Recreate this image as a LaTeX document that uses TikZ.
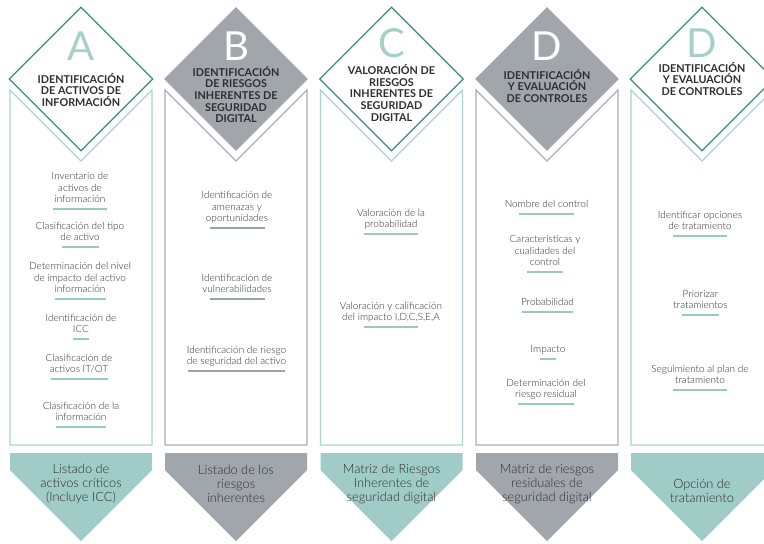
\documentclass[tikz,border=0pt]{standalone}
\usepackage{fontspec}
\setmainfont{Lato}
\newfontfamily\latolight{Lato Light}
\usepackage{tikz}
\usetikzlibrary{shapes.geometric, positioning}
\definecolor{tealline}{HTML}{A9D4CF}
\definecolor{tealfill}{HTML}{9FCCC7}
\definecolor{tealdark}{HTML}{3D8C82}
\definecolor{tealletter}{HTML}{A7CFCA}
\definecolor{tealrulec}{HTML}{98C9C3}
\definecolor{grayfill}{HTML}{A1A6AD}
\definecolor{grayline}{HTML}{ABAEB2}
\definecolor{grayrulec}{HTML}{9EA3AA}
\definecolor{textdark}{HTML}{2E2E2E}
\tikzset{
  tealframe/.style={draw=tealline, line width=1.1pt},
  grayframe/.style={draw=grayline, line width=1.1pt},
  tealdiamond/.style={diamond, aspect=1, minimum width=144pt, minimum height=144pt,
                      inner sep=0pt, draw=tealdark, line width=1.2pt, fill=white},
  graydiamond/.style={diamond, aspect=1, minimum width=144pt, minimum height=144pt,
                      inner sep=0pt, fill=grayfill},
  bigletter/.style={font=\fontsize{40}{40}\selectfont, inner sep=0pt},
  headtext/.style={font=\bfseries\fontsize{10.8}{11.6}\selectfont, align=center, text=textdark, inner sep=0pt},
  itemtext/.style={font=\latolight\fontsize{10}{11.8}\selectfont, align=center, text=textdark,
                   inner sep=0pt, text depth=2.5pt, anchor=south},
  tealrule/.style={draw=tealrulec, line width=2.2pt},
  grayrule/.style={draw=grayrulec, line width=2.2pt},
  outtext/.style={font=\latolight\fontsize{12.8}{14}\selectfont, align=center, text=textdark, inner sep=0pt},
}

\begin{document}
\begin{tikzpicture}[x=1pt, y=-1pt]
  \useasboundingbox (0,0) rectangle (764,544);
  \clip (0,0) rectangle (764,544);

  % Column frames
  \draw[tealframe] (10,90) -- (10,445) -- (152,445) -- (152,90) -- (81,161) -- cycle;
  \draw[grayframe] (165,90) -- (165,445) -- (307,445) -- (307,90) -- (236,161) -- cycle;
  \draw[tealframe] (320.5,90) -- (320.5,445) -- (462.5,445) -- (462.5,90) -- (391.5,161) -- cycle;
  \draw[grayframe] (476,90) -- (476,445) -- (618,445) -- (618,90) -- (547,161) -- cycle;
  \draw[tealframe] (631,90) -- (631,445) -- (773,445) -- (773,90) -- (702,161) -- cycle;

  % Diamonds (headers)
  \node[tealdiamond] (dA) at (81,79) {};
  \node[bigletter, text=tealletter] (lA) at (81,46) {A};
  \node[headtext] (hA) at (81,90) {IDENTIFICACIÓN\\DE ACTIVOS DE\\INFORMACIÓN};

  \node[graydiamond] (dB) at (236,79) {};
  \node[bigletter, text=white] (lB) at (236,46) {B};
  \node[headtext] (hB) at (236,94.5) {IDENTIFICACIÓN\\DE RIESGOS\\INHERENTES DE\\SEGURIDAD\\DIGITAL};

  \node[tealdiamond] (dC) at (391.5,79) {};
  \node[bigletter, text=tealletter] (lC) at (391.5,43) {C};
  \node[headtext] (hC) at (391.5,93) {VALORACIÓN DE\\RIESGOS\\INHERENTES DE\\SEGURIDAD\\DIGITAL};

  \node[graydiamond] (dD) at (547,79) {};
  \node[bigletter, text=white] (lD) at (547,46) {D};
  \node[headtext] (hD) at (547,86) {IDENTIFICACIÓN\\Y EVALUACIÓN\\DE CONTROLES};

  \node[tealdiamond] (dE) at (702,79) {};
  \node[bigletter, text=tealletter] (lE) at (702,43) {D};
  \node[headtext] (hE) at (702,79) {IDENTIFICACIÓN\\Y EVALUACIÓN\\DE CONTROLES};

  % Column A items
  \node[itemtext] (a1) at (80,205.5) {Inventario de\\activos de\\información};
  \draw[tealrule] ([xshift=-27pt,yshift=-3.5pt]a1.south) -- ([xshift=27pt,yshift=-3.5pt]a1.south);
  \node[itemtext] (a2) at (80,243.5) {Clasificación del tipo\\de activo};
  \draw[tealrule] ([xshift=-18.5pt,yshift=-3.5pt]a2.south) -- ([xshift=18.5pt,yshift=-3.5pt]a2.south);
  \node[itemtext] (a3) at (80,295.5) {Determinación del nivel\\de impacto del activo\\información};
  \draw[tealrule] ([xshift=-25.5pt,yshift=-3.5pt]a3.south) -- ([xshift=25.5pt,yshift=-3.5pt]a3.south);
  \node[itemtext] (a4) at (81,335.5) {Identificación de\\ICC};
  \draw[tealrule] ([xshift=-8pt,yshift=-3.5pt]a4.south) -- ([xshift=8pt,yshift=-3.5pt]a4.south);
  \node[itemtext] (a5) at (79,375.5) {Clasificación de\\activos IT/OT};
  \draw[tealrule] ([xshift=-28.5pt,yshift=-3.5pt]a5.south) -- ([xshift=28.5pt,yshift=-3.5pt]a5.south);
  \node[itemtext] (a6) at (81,423.5) {Clasificación de la\\información};
  \draw[tealrule] ([xshift=-25pt,yshift=-3.5pt]a6.south) -- ([xshift=25pt,yshift=-3.5pt]a6.south);

  % Column B items
  \node[itemtext] (b1) at (237,224.5) {Identificación de\\amenazas y\\oportunidades};
  \draw[grayrule] ([xshift=-27.5pt,yshift=-3.5pt]b1.south) -- ([xshift=27.5pt,yshift=-3.5pt]b1.south);
  \node[itemtext] (b2) at (237,295.5) {Identificación de\\vulnerabilidades};
  \draw[grayrule] ([xshift=-27.5pt,yshift=-3.5pt]b2.south) -- ([xshift=27.5pt,yshift=-3.5pt]b2.south);
  \node[itemtext] (b3) at (236.5,367.5) {Identificación de riesgo\\de seguridad del activo};
  \draw[grayrule] ([xshift=-48.5pt,yshift=-3.5pt]b3.south) -- ([xshift=48.5pt,yshift=-3.5pt]b3.south);

  % Column C items
  \node[itemtext] (c1) at (391,230.5) {Valoración de la\\probabilidad};
  \draw[tealrule] ([xshift=-27pt,yshift=-3.5pt]c1.south) -- ([xshift=27pt,yshift=-3.5pt]c1.south);
  \node[itemtext] (c2) at (391,323.5) {Valoración y calificación\\del impacto I,D,C,S,E,A};
  \draw[tealrule] ([xshift=-27pt,yshift=-3.5pt]c2.south) -- ([xshift=27pt,yshift=-3.5pt]c2.south);

  % Column D items
  \node[itemtext] (d1) at (546.5,210.5) {Nombre del control};
  \draw[tealrule] ([xshift=-27.5pt,yshift=-3.5pt]d1.south) -- ([xshift=27.5pt,yshift=-3.5pt]d1.south);
  \node[itemtext] (d2) at (545,268.5) {Características y\\cualidades del\\control};
  \draw[tealrule] ([xshift=-18pt,yshift=-3.5pt]d2.south) -- ([xshift=18pt,yshift=-3.5pt]d2.south);
  \node[itemtext] (d3) at (547.5,308.5) {Probabilidad};
  \draw[tealrule] ([xshift=-25.5pt,yshift=-3.5pt]d3.south) -- ([xshift=25.5pt,yshift=-3.5pt]d3.south);
  \node[itemtext] (d4) at (548,355.5) {Impacto};
  \draw[tealrule] ([xshift=-8pt,yshift=-3.5pt]d4.south) -- ([xshift=8pt,yshift=-3.5pt]d4.south);
  \node[itemtext] (d5) at (546,400.5) {Determinación del\\riesgo residual};
  \draw[tealrule] ([xshift=-28pt,yshift=-3.5pt]d5.south) -- ([xshift=28pt,yshift=-3.5pt]d5.south);

  % Column E items
  \node[itemtext] (e1) at (700,232.5) {Identificar opciones\\de tratamiento};
  \draw[tealrule] ([xshift=-27pt,yshift=-3.5pt]e1.south) -- ([xshift=27pt,yshift=-3.5pt]e1.south);
  \node[itemtext] (e2) at (700.5,311.5) {Priorizar\\tratamientos};
  \draw[tealrule] ([xshift=-18.5pt,yshift=-3.5pt]e2.south) -- ([xshift=18.5pt,yshift=-3.5pt]e2.south);
  \node[itemtext] (e3) at (700,386.5) {Seguimiento al plan de\\tratamiento};
  \draw[tealrule] ([xshift=-27pt,yshift=-3.5pt]e3.south) -- ([xshift=27pt,yshift=-3.5pt]e3.south);

  % Output chevrons (bottom)
  \fill[tealfill] (10,453) -- (152,453) -- (152,470) -- (81,541) -- (10,470) -- cycle;
  \node[outtext] (oA) at (81,484) {Listado de\\activos críticos\\(Incluye ICC)};
  \fill[grayfill] (165,453) -- (307,453) -- (307,470) -- (236,541) -- (165,470) -- cycle;
  \node[outtext] (oB) at (236,484) {Listado de los\\riesgos\\inherentes};
  \fill[tealfill] (320.5,453) -- (462.5,453) -- (462.5,470) -- (391.5,541) -- (320.5,470) -- cycle;
  \node[outtext] (oC) at (391.5,484) {Matriz de Riesgos\\Inherentes de\\seguridad digital};
  \fill[grayfill] (476,453) -- (618,453) -- (618,470) -- (547,541) -- (476,470) -- cycle;
  \node[outtext] (oD) at (547,484) {Matriz de riesgos\\residuales de\\seguridad digital};
  \fill[tealfill] (631,453) -- (773,453) -- (773,470) -- (702,541) -- (631,470) -- cycle;
  \node[outtext] (oE) at (702,491) {Opción de\\tratamiento};
\end{tikzpicture}
\end{document}
